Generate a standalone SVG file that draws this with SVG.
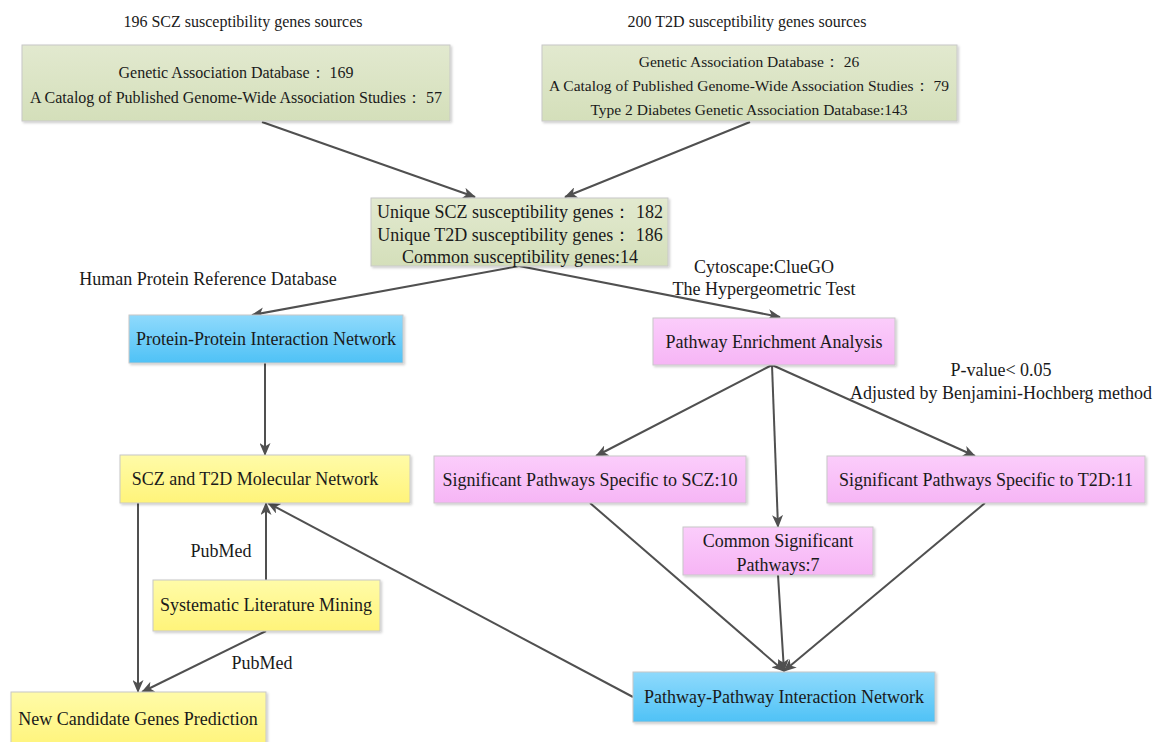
<svg xmlns="http://www.w3.org/2000/svg" width="1153" height="742" viewBox="0 0 1153 742">
<style>
text{font-family:"Liberation Serif","Times New Roman",serif;font-size:18px;fill:#1a1a1a;text-anchor:middle}
.s16{font-size:16px}
.s15{font-size:15.5px}
.box{stroke:#c8c8c8;stroke-width:1;filter:url(#sh)}
.g{fill:url(#gG)}
.b{fill:url(#gB)}
.p{fill:url(#gP)}
.y{fill:url(#gY)}
.c{stroke:#505050;stroke-width:2;fill:none;marker-end:url(#ah)}
</style>
<defs>
<linearGradient id="gG" x1="0" y1="0" x2="0" y2="1"><stop offset="0" stop-color="#e2e9cf"/><stop offset="1" stop-color="#d4dfba"/></linearGradient>
<linearGradient id="gB" x1="0" y1="0" x2="0" y2="1"><stop offset="0" stop-color="#8fdafc"/><stop offset="1" stop-color="#4fc2f6"/></linearGradient>
<linearGradient id="gP" x1="0" y1="0" x2="0" y2="1"><stop offset="0" stop-color="#fbcdfb"/><stop offset="1" stop-color="#f6b5f5"/></linearGradient>
<linearGradient id="gY" x1="0" y1="0" x2="0" y2="1"><stop offset="0" stop-color="#fffba8"/><stop offset="1" stop-color="#fff47a"/></linearGradient>
<filter id="sh" x="-5%" y="-10%" width="110%" height="130%"><feDropShadow dx="1.5" dy="1.5" stdDeviation="1" flood-color="#000" flood-opacity="0.2"/></filter>
<marker id="ah" viewBox="0 0 13 11" refX="12" refY="5.5" markerWidth="13" markerHeight="11" markerUnits="userSpaceOnUse" orient="auto"><path d="M0,0 L13,5.5 L0,11 L3.5,5.5 Z" fill="#505050"/></marker>
</defs>

<text class="s16" x="243" y="27">196 SCZ susceptibility genes sources</text>
<text class="s16" x="747" y="27">200 T2D susceptibility genes sources</text>
<text x="208" y="285">Human Protein Reference Database</text>
<text x="764" y="273">Cytoscape:ClueGO</text>
<text x="764" y="295">The Hypergeometric Test</text>
<text x="1001" y="376">P-value&lt; 0.05</text>
<text x="1001" y="399">Adjusted by Benjamini-Hochberg method</text>
<text x="221" y="557">PubMed</text>
<text x="262" y="669">PubMed</text>

<g id="connectors">
<line class="c" x1="262" y1="122" x2="475" y2="197"/>
<line class="c" x1="750" y1="122" x2="565" y2="197"/>
<line class="c" x1="519" y1="266" x2="252" y2="315"/>
<line class="c" x1="519" y1="266" x2="780" y2="317"/>
<line class="c" x1="265" y1="363" x2="265" y2="455"/>
<line class="c" x1="772" y1="365" x2="596" y2="456"/>
<line class="c" x1="772" y1="365" x2="778" y2="527"/>
<line class="c" x1="772" y1="365" x2="975" y2="456"/>
<line class="c" x1="590" y1="503" x2="784" y2="671"/>
<line class="c" x1="778" y1="575" x2="784" y2="671"/>
<line class="c" x1="985" y1="503" x2="784" y2="671"/>
<line class="c" x1="633" y1="697" x2="268" y2="503"/>
<line class="c" x1="266" y1="580" x2="266" y2="503"/>
<line class="c" x1="138" y1="503" x2="138" y2="692"/>
<line class="c" x1="266" y1="631" x2="142" y2="692"/>
</g>

<g id="scz-sources">
<rect class="box g" x="22" y="45" width="428" height="76"/>
<text class="s16" x="236" y="78">Genetic Association Database： 169</text>
<text class="s16" x="236" y="103">A Catalog of Published Genome-Wide Association Studies： 57</text>
</g>
<g id="t2d-sources">
<rect class="box g" x="542" y="45" width="415" height="76"/>
<text class="s15" x="749" y="67">Genetic Association Database： 26</text>
<text class="s15" x="749" y="91">A Catalog of Published Genome-Wide Association Studies： 79</text>
<text class="s15" x="749" y="115">Type 2 Diabetes Genetic Association Database:143</text>
</g>
<g id="unique-genes">
<rect class="box g" x="371" y="198" width="297" height="68"/>
<text x="520" y="218">Unique SCZ susceptibility genes： 182</text>
<text x="520" y="241">Unique T2D susceptibility genes： 186</text>
<text x="520" y="263">Common susceptibility genes:14</text>
</g>
<g id="ppi">
<rect class="box b" x="129" y="315" width="274" height="48"/>
<text x="266" y="345">Protein-Protein Interaction Network</text>
</g>
<g id="pea">
<rect class="box p" x="653" y="318" width="242" height="47"/>
<text x="774" y="348">Pathway Enrichment Analysis</text>
</g>
<g id="molecular">
<rect class="box y" x="120" y="455" width="290" height="48"/>
<text x="255" y="485">SCZ and T2D Molecular Network</text>
</g>
<g id="scz-pathways">
<rect class="box p" x="434" y="456" width="312" height="47"/>
<text x="590" y="486">Significant Pathways Specific to SCZ:10</text>
</g>
<g id="t2d-pathways">
<rect class="box p" x="827" y="456" width="318" height="47"/>
<text x="986" y="486">Significant Pathways Specific to T2D:11</text>
</g>
<g id="common-pathways">
<rect class="box p" x="683" y="527" width="190" height="48"/>
<text x="778" y="547">Common Significant</text>
<text x="778" y="571">Pathways:7</text>
</g>
<g id="literature">
<rect class="box y" x="153" y="580" width="227" height="51"/>
<text x="266" y="611">Systematic Literature Mining</text>
</g>
<g id="candidates">
<rect class="box y" x="11" y="692" width="255" height="56"/>
<text x="138" y="725">New Candidate Genes Prediction</text>
</g>
<g id="ppin">
<rect class="box b" x="633" y="672" width="302" height="50"/>
<text x="784" y="703">Pathway-Pathway Interaction Network</text>
</g>
</svg>
